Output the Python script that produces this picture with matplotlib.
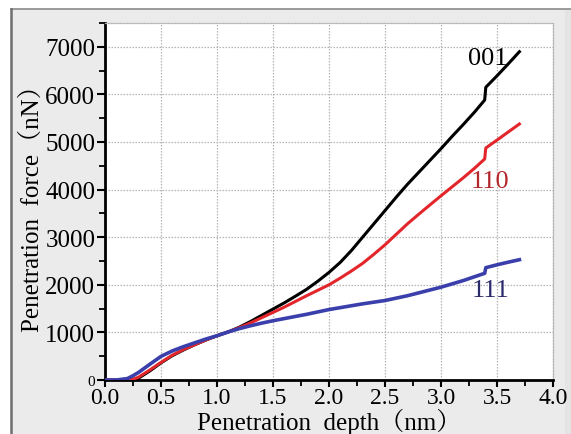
import matplotlib
matplotlib.use("Agg")
import matplotlib.pyplot as plt
from matplotlib.patches import Rectangle
from matplotlib.lines import Line2D
from matplotlib.ticker import MultipleLocator

depth = [0.0, 0.1, 0.2, 0.25, 0.3, 0.4, 0.5, 0.6, 0.7, 0.8, 0.9, 1.0, 1.1, 1.2, 1.3,
         1.4, 1.5, 1.6, 1.7, 1.8, 1.9, 2.0, 2.1, 2.2, 2.3, 2.4, 2.5, 2.6, 2.7, 2.8,
         2.9, 3.0, 3.1, 3.2, 3.3, 3.39, 3.40, 3.5, 3.6, 3.7]

force_001 = [0, 0, 0, 10, 40, 190, 360, 510, 630, 740, 840, 930, 1010, 1110, 1230,
             1360, 1490, 1620, 1760, 1905, 2075, 2260, 2470, 2720, 3000, 3280, 3560,
             3840, 4110, 4360, 4610, 4860, 5120, 5370, 5630, 5882, 6150, 6390, 6640, 6897]

force_110 = [0, 0, 0, 15, 60, 210, 370, 520, 640, 740, 840, 930, 1010, 1100, 1200,
             1310, 1420, 1530, 1650, 1770, 1885, 2000, 2140, 2290, 2450, 2640, 2840,
             3060, 3280, 3480, 3676, 3870, 4060, 4250, 4450, 4643, 4874, 5040, 5210, 5378]

force_111 = [0, 0, 30, 90, 160, 330, 496, 610, 700, 780, 860, 930, 1010, 1080, 1140,
             1195, 1245, 1290, 1335, 1380, 1430, 1480, 1520, 1560, 1600, 1635, 1670,
             1720, 1770, 1830, 1890, 1950, 2020, 2090, 2170, 2241, 2360, 2420, 2475, 2527]

labels = ["001", "110", "111"]
label_pos = [(3.42, 6760), (3.44, 4190), (3.44, 1890)]

xticks = [0.0, 0.5, 1.0, 1.5, 2.0, 2.5, 3.0, 3.5, 4.0]
yticks = [0, 1000, 2000, 3000, 4000, 5000, 6000, 7000]

serif = ['Liberation Serif', 'Noto Serif CJK SC', 'Noto Sans CJK SC', 'DejaVu Serif']
plt.rcParams['font.family'] = serif

W, H = 571, 435
fig = plt.figure(figsize=(W / 100, H / 100), dpi=100)
fig.patch.set_facecolor('white')

# grey panel background with border lines
fig.patches.append(Rectangle((11 / W, 0), 1, 1 - 10 / H, transform=fig.transFigure,
                             facecolor='#ebebeb', edgecolor='none', zorder=-10))
fig.patches.append(Rectangle((565 / W, 0), 1, 1 - 11 / H, transform=fig.transFigure,
                             facecolor='#e4e4e4', edgecolor='none', zorder=-9))
fig.lines.append(Line2D([11 / W, 1], [1 - 10 / H, 1 - 10 / H], transform=fig.transFigure,
                        color='#8a8a8a', lw=1.2))
fig.lines.append(Line2D([11 / W, 11 / W], [0, 1 - 10 / H], transform=fig.transFigure,
                        color='#6e6e6e', lw=1.8))

ax = fig.add_axes([105 / W, 1 - 381 / H, (553 - 105) / W, (381 - 24) / H])
ax.set_facecolor('white')

ax.plot(depth, force_001, color='black', lw=2.2, zorder=3)
ax.plot(depth, force_110, color='#e3262b', lw=2.2, zorder=4)
ax.plot(depth, force_111, color='#3b3fab', lw=2.6, zorder=5)

label_colors = ['black', '#b3262c', '#2b2a6b']
for t, (lx, ly), c in zip(labels, label_pos, label_colors):
    ax.text(lx, ly, t, color=c, fontsize=19, ha='center', va='center', zorder=6)

ax.set_xlim(0, 4.0)
ax.set_ylim(0, 7500)
ax.set_xticks(xticks)
ax.set_yticks(yticks)
ax.set_xticklabels([f"{v:.1f}" for v in xticks])
ax.set_yticklabels([str(v) for v in yticks])
ax.xaxis.set_minor_locator(MultipleLocator(0.25))
ax.yaxis.set_minor_locator(MultipleLocator(500))

ax.grid(True, which='major', color='#b5b5b5', linestyle=(0, (1.2, 1.2)), lw=0.9)
ax.set_axisbelow(True)

for s in ['top', 'right']:
    ax.spines[s].set_color('#b5b5b5')
    ax.spines[s].set_linestyle((0, (1.2, 1.2)))
    ax.spines[s].set_linewidth(0.9)
for s in ['left', 'bottom']:
    ax.spines[s].set_color('black')
    ax.spines[s].set_linewidth(2.0)

ax.tick_params(axis='both', which='major', direction='out', length=6, width=1.5,
               labelsize=18, colors='black', pad=1)
ax.tick_params(axis='both', which='minor', direction='out', length=4, width=1.3)
ax.tick_params(axis='x', which='major', length=5, labelsize=17, pad=0)

ax.get_yticklabels()[0].set_fontsize(11)

ax.set_xlabel("Penetration  depth（nm）", fontsize=18, labelpad=0)
ax.set_ylabel("Penetration  force（nN）", fontsize=18, labelpad=1)

fig.savefig("out.png", dpi=100, facecolor=fig.get_facecolor())
